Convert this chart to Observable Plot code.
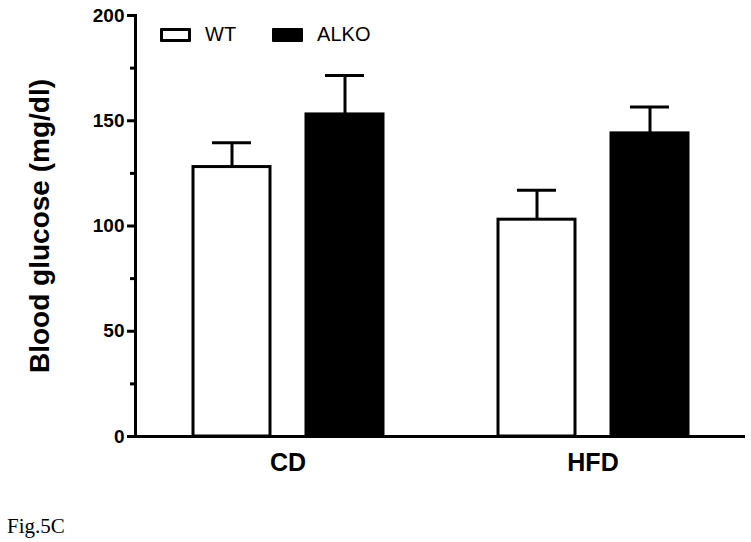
<!DOCTYPE html>
<html>
<head>
<meta charset="utf-8">
<script src="https://cdn.jsdelivr.net/npm/d3@7"></script>
<script src="https://cdn.jsdelivr.net/npm/@observablehq/plot@0.6"></script>
<style>
  body { margin: 0; background: white; }
  #wrap { position: relative; width: 751px; height: 542px; background: white; }
  #legend { position: absolute; top: 23px; left: 160px; display: flex; align-items: center;
            font-family: "Liberation Sans", Arial, sans-serif; font-size: 20px; color: #000; }
  .item { display: flex; align-items: center; margin-right: 36px; }
  .sw { width: 25px; height: 8px; border: 3px solid #000; margin-right: 14px; border-radius: 1px; }
  #caption { position: absolute; left: 7px; top: 516px; font-family: "Liberation Serif", "Times New Roman", serif;
             font-size: 21px; line-height: 1; color: #000; }
  g[aria-label="y-axis label"] text { font-size: 28px; }
  g[aria-label="y-axis tick label"] text { font-size: 19px; }
  g[aria-label="fx-axis tick label"] text { font-size: 25px; }
</style>
</head>
<body>
<div id="wrap">
  <div id="chart"></div>
  <div id="legend"></div>
  <div id="caption">Fig.5C</div>
</div>
<script>
const diets = ["CD", "HFD"];
const genotypes = ["WT", "ALKO"];
const colors = ["white", "black"];
const wtMean = [128, 103];
const wtSem = [11.5, 14];
const alkoMean = [153, 144];
const alkoSem = [18.5, 12.5];
const majorTicks = [0, 50, 100, 150, 200];
const minorTicks = [25, 75, 125, 175];

const data = [];
diets.forEach((d, i) => {
  data.push({diet: d, geno: "WT", value: wtMean[i], sem: wtSem[i]});
  data.push({diet: d, geno: "ALKO", value: alkoMean[i], sem: alkoSem[i]});
});

const chart = Plot.plot({
  width: 751,
  height: 490,
  marginLeft: 134,
  marginRight: 6,
  marginTop: 15,
  marginBottom: 54,
  style: {fontFamily: "Liberation Sans, Arial, sans-serif", fontWeight: "bold", background: "white", color: "black", overflow: "visible"},
  fx: {domain: diets, padding: 0},
  x: {domain: genotypes, paddingInner: 0.32, paddingOuter: 0.5, axis: null},
  y: {domain: [0, 200]},
  color: {domain: genotypes, range: colors},
  marks: [
    Plot.barY(data, {fx: "diet", x: "geno", y: "value", fill: "geno", stroke: "black", strokeWidth: 3}),
    Plot.ruleX(data, {fx: "diet", x: "geno", y1: "value", y2: d => d.value + d.sem, stroke: "black", strokeWidth: 3}),
    Plot.tickY(data, {fx: "diet", x: "geno", y: d => d.value + d.sem, stroke: "black", strokeWidth: 3, insetLeft: 19, insetRight: 19}),
    Plot.ruleY([0], {stroke: "black", strokeWidth: 3}),
    Plot.frame({anchor: "left", facetAnchor: "left", stroke: "black", strokeWidth: 3}),
    Plot.axisFx({anchor: "bottom", tickSize: 0, tickPadding: 17, fontSize: 25, label: null}),
    Plot.axisY({ticks: majorTicks, tickSize: 8, tickPadding: 3, fontSize: 19, strokeWidth: 3,
                label: "Blood glucose (mg/dl)", labelAnchor: "center", labelOffset: 106, labelArrow: "none"}),
    Plot.axisY({ticks: minorTicks, tickSize: 5, strokeWidth: 3, tickFormat: () => "", label: null})
  ]
});
document.getElementById("chart").appendChild(chart);

const legend = document.getElementById("legend");
genotypes.forEach((g, i) => {
  const item = document.createElement("div");
  item.className = "item";
  const sw = document.createElement("div");
  sw.className = "sw";
  sw.style.background = colors[i];
  const t = document.createElement("span");
  t.textContent = g;
  item.appendChild(sw);
  item.appendChild(t);
  legend.appendChild(item);
});
</script>
</body>
</html>
